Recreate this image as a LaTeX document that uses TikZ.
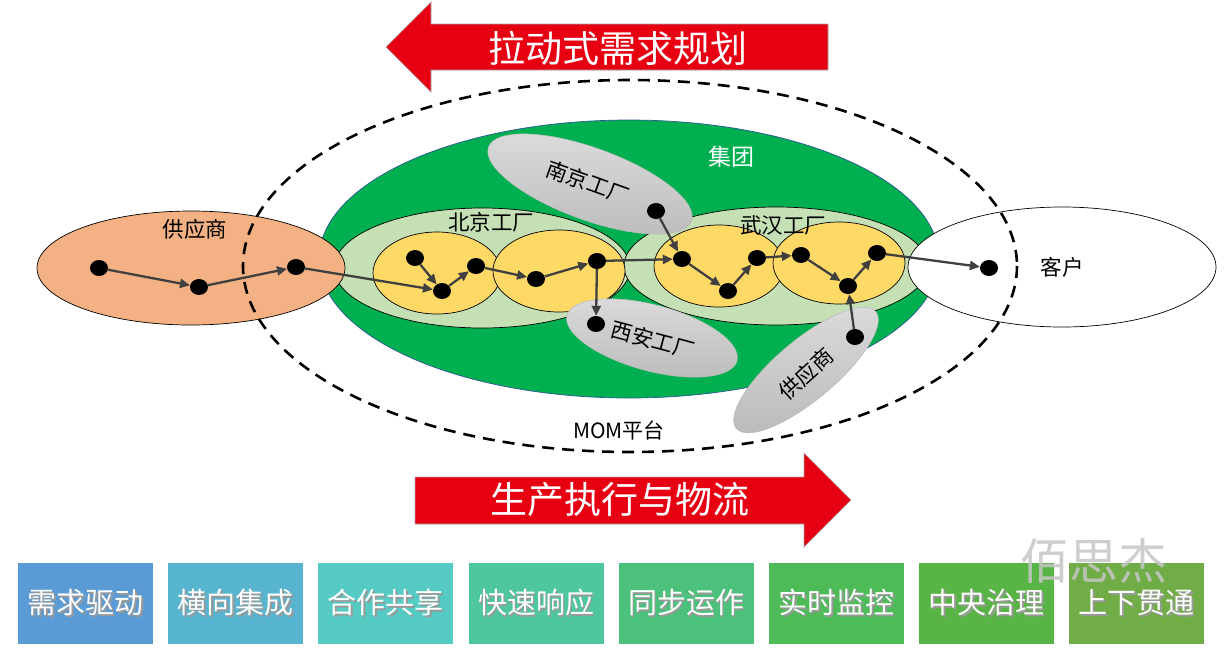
\documentclass[tikz,border=0pt]{standalone}
\usepackage{fontspec}
\newfontfamily\cjk{Noto Sans CJK SC}
\usetikzlibrary{shapes.geometric,arrows.meta}
\definecolor{arrowred}{HTML}{E60012}
\definecolor{groupgreen}{HTML}{00B050}
\definecolor{groupedge}{HTML}{2F5597}
\definecolor{plantgreen}{HTML}{C5E0B4}
\definecolor{lineyellow}{HTML}{FFD966}
\definecolor{supporange}{HTML}{F4B183}
\definecolor{conngray}{HTML}{404040}
\definecolor{gtop}{HTML}{DCDCDC}
\definecolor{gbot}{HTML}{BCBCBC}
\definecolor{bxa}{HTML}{5B9BD5}
\definecolor{bxb}{HTML}{57B5CF}
\definecolor{bxc}{HTML}{55CBC4}
\definecolor{bxd}{HTML}{4FC79E}
\definecolor{bxe}{HTML}{4CC17C}
\definecolor{bxf}{HTML}{4CBB58}
\definecolor{bxg}{HTML}{58B445}
\definecolor{bxh}{HTML}{70AD47}
\definecolor{wmark}{HTML}{C6C6C6}
\newcommand{\shtxt}[1]{\makebox[0pt][l]{\hspace{1.6pt}\raisebox{-1.6pt}{\textcolor{black!40}{#1}}}#1}
\begin{document}
\begin{tikzpicture}[x=1pt,y=-1pt,
  oval/.style={ellipse, inner sep=0pt, line width=0.7pt},
  grayoval/.style={ellipse, inner sep=0pt, draw=gray!55, line width=0.5pt, top color=gtop, bottom color=gbot},
  dot/.style={ellipse, fill=black, minimum width=18pt, minimum height=16pt, inner sep=0pt},
  conn/.style={draw=conngray, line width=2.3pt, -{Triangle[length=10pt,width=9pt]}},
  lbl/.style={font=\cjk\fontsize{21.5}{24}\selectfont, inner sep=0pt},
  bigarrow/.style={fill=arrowred, draw=gray!70, line width=0.6pt},
  bigtxt/.style={font=\cjk\fontsize{37}{40}\selectfont, text=white, inner sep=0pt},
  tile/.style={minimum width=135pt, minimum height=81pt, inner sep=0pt, text=white, font=\cjk\fontsize{29}{32}\selectfont}
]
\useasboundingbox (0,0) rectangle (1224,657);

% top arrow
\path[bigarrow] (386,47) -- (431,2) -- (431,24) -- (828,24) -- (828,70) -- (431,70) -- (431,92) -- cycle;
\node[bigtxt] (pull) at (618,48) {拉动式需求规划};

% group
\node[oval, draw=groupedge, fill=groupgreen, minimum width=620pt, minimum height=278pt] (grp) at (629,259) {};
\node[lbl, text=white, font=\cjk\fontsize{23}{26}\selectfont] (grptxt) at (731,157) {集团};

% plants
\node[oval, draw=black, fill=plantgreen, minimum width=296pt, minimum height=120pt] (bj) at (482,268) {};
\node[oval, draw=black, fill=plantgreen, minimum width=304pt, minimum height=118pt] (wh) at (776,266) {};
\node[oval, draw=black, fill=lineyellow, minimum width=128pt, minimum height=82pt] (bja) at (437,273) {};
\node[oval, draw=black, fill=lineyellow, minimum width=132pt, minimum height=82pt] (bjb) at (559,271) {};
\node[oval, draw=black, fill=lineyellow, minimum width=130pt, minimum height=82pt] (wha) at (719,266) {};
\node[oval, draw=black, fill=lineyellow, minimum width=132pt, minimum height=82pt] (whb) at (839,263) {};
\node[lbl] (bjtxt) at (491,222) {北京工厂};
\node[lbl] (whtxt) at (783,225) {武汉工厂};

% gray sites
\node[grayoval, minimum width=216pt, minimum height=72pt, rotate=-20] (nj) at (590,184) {};
\node[lbl, rotate=-20] (njtxt) at (588,182) {南京工厂};
\node[grayoval, minimum width=176pt, minimum height=66pt, rotate=-15] (xa) at (652,338) {};
\node[lbl, rotate=-15] (xatxt) at (653,340) {西安工厂};
\node[grayoval, minimum width=182pt, minimum height=60pt, rotate=40] (sp) at (806,370) {};
\node[lbl, rotate=42] (sptxt) at (806,374) {供应商};

% supplier and customer
\node[oval, draw=black, fill=supporange, minimum width=308pt, minimum height=114pt] (sup) at (191,268) {};
\node[lbl] (suptxt) at (195,229) {供应商};
\node[oval, draw=black, fill=white, minimum width=308pt, minimum height=120pt] (cus) at (1062,267) {};
\node[lbl] (custxt) at (1062,267) {客户};

% MOM platform
\draw[black, line width=2.6pt, dash pattern=on 12pt off 8pt] (630,266) ellipse [x radius=387, y radius=186];
\node[lbl, font=\cjk\fontsize{21}{24}\selectfont] (mom) at (619,430) {MOM平台};

% dots
\node[dot] (a1) at (99,268) {};
\node[dot] (a2) at (199,287) {};
\node[dot] (a3) at (296,267) {};
\node[dot] (b1) at (415,258) {};
\node[dot] (b2) at (442,291) {};
\node[dot] (b3) at (476,266) {};
\node[dot] (b4) at (536,279) {};
\node[dot] (b5) at (597,261) {};
\node[dot] (x1) at (596,324) {};
\node[dot] (n1) at (656,211) {};
\node[dot] (w1) at (682,259) {};
\node[dot] (w2) at (728,291) {};
\node[dot] (w3) at (757,258) {};
\node[dot] (w4) at (801,255) {};
\node[dot] (w5) at (848,286) {};
\node[dot] (w6) at (877,253) {};
\node[dot] (s1) at (855,337) {};
\node[dot] (c1) at (989,268) {};

% connectors
\draw[conn] (a1) -- (a2);
\draw[conn] (a2) -- (a3);
\draw[conn] (a3) -- (b2);
\draw[conn] (b1) -- (b2);
\draw[conn] (b2) -- (b3);
\draw[conn] (b3) -- (b4);
\draw[conn] (b4) -- (b5);
\draw[conn] (b5) -- (x1);
\draw[conn] (b5) -- (w1);
\draw[conn] (n1) -- (w1);
\draw[conn] (w1) -- (w2);
\draw[conn] (w2) -- (w3);
\draw[conn] (w3) -- (w4);
\draw[conn] (w4) -- (w5);
\draw[conn] (w5) -- (w6);
\draw[conn] (s1) -- (w5);
\draw[conn] (w6) -- (c1);

% bottom arrow
\path[bigarrow] (415,477) -- (804,477) -- (804,453) -- (851,500) -- (804,547) -- (804,524) -- (415,524) -- cycle;
\node[bigtxt] (push) at (620,500) {生产执行与物流};

% tiles
\node[tile, fill=bxa] (t1) at (85.5,603.5) {\shtxt{需求驱动}};
\node[tile, fill=bxb] (t2) at (235.7,603.5) {\shtxt{横向集成}};
\node[tile, fill=bxc] (t3) at (385.9,603.5) {\shtxt{合作共享}};
\node[tile, fill=bxd] (t4) at (536.1,603.5) {\shtxt{快速响应}};
\node[tile, fill=bxe] (t5) at (686.3,603.5) {\shtxt{同步运作}};
\node[tile, fill=bxf] (t6) at (836.5,603.5) {\shtxt{实时监控}};
\node[tile, fill=bxg] (t7) at (986.7,603.5) {\shtxt{中央治理}};
\node[tile, fill=bxh] (t8) at (1136.9,603.5) {\shtxt{上下贯通}};

% watermark
\node[inner sep=0pt, text=wmark, text opacity=0.85, font=\cjk\fontsize{49}{52}\selectfont] (wm) at (1094,561) {佰思杰};
\end{tikzpicture}
\end{document}
